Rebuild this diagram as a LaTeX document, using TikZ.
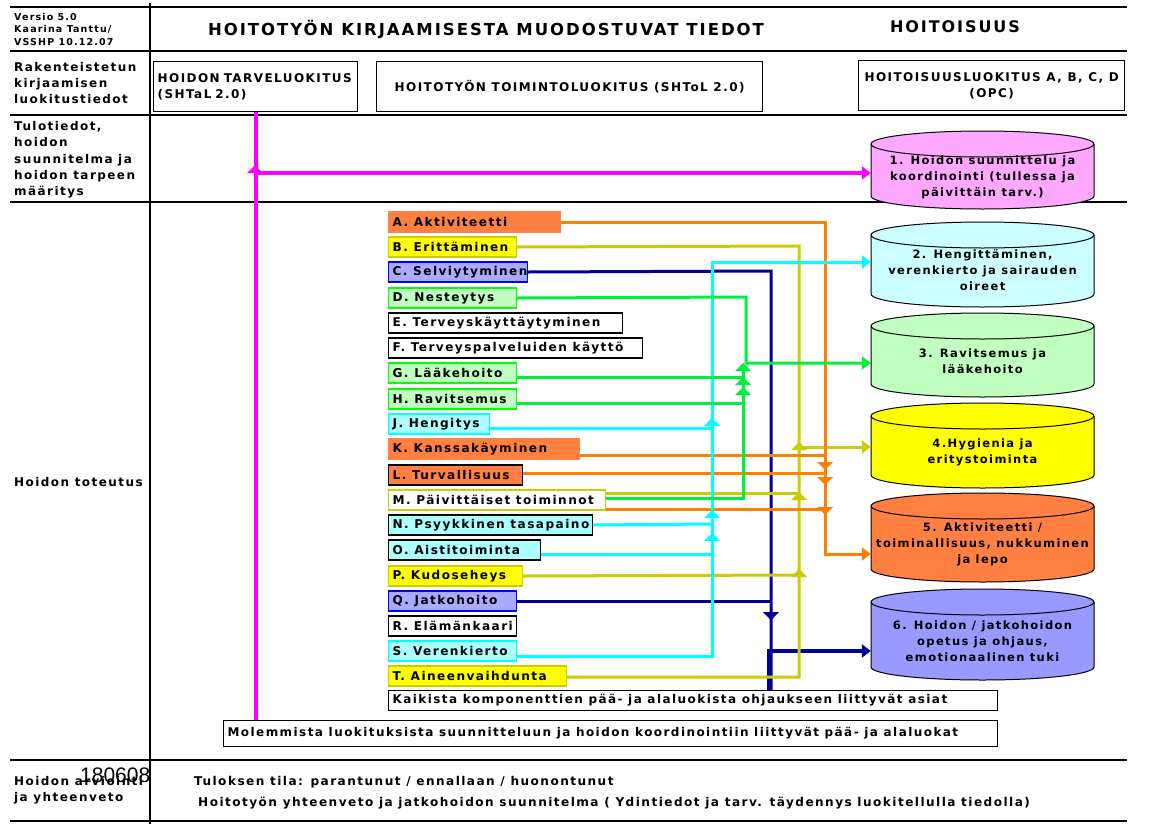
\documentclass[tikz,border=0pt]{standalone}
\usepackage{fontspec}
\setmainfont{DejaVu Sans}[LetterSpace=12]
\newfontfamily\numfont{Liberation Sans}
\usetikzlibrary{arrows.meta,calc}
\definecolor{orl}{HTML}{FF8000}
\definecolor{orf}{HTML}{FF8040}
\definecolor{oll}{HTML}{CCCC00}
\definecolor{yel}{HTML}{FFFF00}
\definecolor{cyanl}{HTML}{00FFFF}
\definecolor{cyf}{HTML}{AAFFFF}
\definecolor{grl}{HTML}{00F040}
\definecolor{grb}{HTML}{00FF00}
\definecolor{grf}{HTML}{C0FFC0}
\definecolor{nvl}{HTML}{000099}
\definecolor{lvf}{HTML}{AAAAFF}
\definecolor{blb}{HTML}{0000FF}
\definecolor{mgl}{HTML}{FF00FF}
\definecolor{pkf}{HTML}{FFA8FF}
\definecolor{ctwo}{HTML}{CCFFFF}
\definecolor{csix}{HTML}{9999FF}
\newcommand\fsz[2]{\fontsize{#1}{#2}\selectfont}
\newcommand\cb[2]{\makebox[#1][l]{#2}}
\tikzset{
  grid/.style={line width=1.3pt, black},
  lab/.style={anchor=west, inner sep=0pt, align=left, font=\bfseries\fsz{12}{16.3}},
  ttl/.style={inner sep=0pt, font=\bfseries\fsz{16}{18}},
  hbox/.style={draw, line width=1.3pt, inner xsep=4pt, inner ysep=0pt, font=\bfseries\fsz{12}{16.5}},
  comp/.style={draw, line width=1.2pt, anchor=west, minimum height=20pt, inner xsep=4pt, inner ysep=0pt, font=\bfseries\fsz{12.1}{14}},
  wbox/.style={draw, line width=1.2pt, anchor=north west, inner xsep=4pt, inner ysep=0pt, font=\bfseries\fsz{12}{14}},
  btxt/.style={anchor=west, inner sep=0pt, font=\bfseries\fsz{12.1}{14}},
  cyltxt/.style={inner sep=0pt, align=center, minimum width=223pt, font=\bfseries\fsz{11.5}{16}},
  cylst/.style={draw=black, line width=1pt},
  ln/.style={line width=3pt},
  arr/.style={-{Triangle[length=9pt,width=13pt]}},
  jup/.pic={\fill (-8,4) -- (0,-4) -- (8,4) -- cycle;},
  jdn/.pic={\fill (-8,-4) -- (0,4) -- (8,-4) -- cycle;}
}
\newcommand\cylinder[3]{%
  \filldraw[cylst, fill=#1] (871,#2+13) -- (871,#3-13)
    arc[start angle=180,end angle=360,x radius=111.5pt,y radius=13pt]
    -- (1094,#2+13)
    arc[start angle=0,end angle=180,x radius=111.5pt,y radius=13pt] -- cycle;
  \draw[cylst] (871,#2+13) arc[start angle=180,end angle=360,x radius=111.5pt,y radius=13pt];}
\begin{document}
\begin{tikzpicture}[x=1pt,y=-1pt]
\useasboundingbox (0,0) rectangle (1154,833);
\fill[white] (0,0) rectangle (1154,833);
% grid
\foreach \yy in {7,51,115,202,760,821} \draw[grid] (10,\yy) -- (1127,\yy);
\draw[grid] (150,3) -- (150,824);
% header texts
\node[lab, font=\bfseries\fsz{9.5}{12.5}] (versio) at (14,29) {Versio 5.0\\Kaarina Tanttu/\\VSSHP 10.12.07};
\node[ttl, font=\bfseries\fsz{16.5}{18}] (title) at (486,29) {HOITOTYÖN KIRJAAMISESTA MUODOSTUVAT TIEDOT};
\node[ttl] (title2) at (955,27) {HOITOISUUS};
% left labels
\node[lab] (l1) at (14,83) {Rakenteistetun\\kirjaamisen\\luokitustiedot};
\node[lab] (l2) at (14,160) {Tulotiedot,\\hoidon\\suunnitelma ja\\hoidon tarpeen\\määritys};
\node[lab] (l3) at (14,482) {Hoidon toteutus};
\node[lab] (l4) at (14,790) {Hoidon arviointi\\ja yhteenveto};
\node[anchor=west, inner sep=0pt, font=\numfont\fsz{21}{24}] (num) at (80,775) {180608};
% classification boxes
\node[hbox, anchor=north west, minimum width=204pt, minimum height=50pt, text width=196pt, align=left] (tarve) at (153,61) {HOIDON TARVELUOKITUS\\(SHTaL 2.0)};
\node[hbox, anchor=north west, minimum width=386pt, minimum height=50pt] (toim) at (376,61) {HOITOTYÖN TOIMINTOLUOKITUS (SHToL 2.0)};
\node[hbox, anchor=north west, minimum width=266pt, minimum height=50pt, align=center] (opc) at (858,60) {HOITOISUUSLUOKITUS A, B, C, D\\(OPC)};
% component boxes
\node[comp, fill=orf, draw=orf] (A) at (388,222) {\cb{164pt}{A. Aktiviteetti}};
\node[comp, fill=yel, draw=oll] (B) at (388,247) {\cb{120pt}{B. Erittäminen}};
\node[comp, fill=lvf, draw=blb] (C) at (388,272) {\cb{131pt}{C. Selviytyminen}};
\node[comp, fill=grf, draw=grb] (D) at (388,298) {\cb{120pt}{D. Nesteytys}};
\node[comp, fill=white, draw=black] (E) at (388,323) {\cb{226pt}{E. Terveyskäyttäytyminen}};
\node[comp, fill=white, draw=black] (F) at (388,348) {\cb{246pt}{F. Terveyspalveluiden käyttö}};
\node[comp, fill=grf, draw=grb] (G) at (388,373) {\cb{120pt}{G. Lääkehoito}};
\node[comp, fill=grf, draw=grb] (H) at (388,399) {\cb{120pt}{H. Ravitsemus}};
\node[comp, fill=cyf, draw=cyanl] (J) at (388,424) {\cb{93pt}{J. Hengitys}};
\node[comp, fill=orf, draw=orf] (K) at (388,449) {\cb{183pt}{K. Kanssakäyminen}};
\node[comp, fill=orf, draw=black] (L) at (388,475) {\cb{126pt}{L. Turvallisuus}};
\node[comp, fill=white, draw=oll] (M) at (388,500) {\cb{209pt}{M. Päivittäiset toiminnot}};
\node[comp, fill=cyf, draw=black] (N) at (388,525) {\cb{196pt}{N. Psyykkinen tasapaino}};
\node[comp, fill=cyf, draw=black] (O) at (388,550) {\cb{144pt}{O. Aistitoiminta}};
\node[comp, fill=yel, draw=oll] (P) at (388,576) {\cb{126pt}{P. Kudoseheys}};
\node[comp, fill=lvf, draw=blb] (Q) at (388,601) {\cb{120pt}{Q. Jatkohoito}};
\node[comp, fill=white, draw=black] (R) at (388,626) {\cb{120pt}{R. Elämänkaari}};
\node[comp, fill=cyf, draw=cyanl] (S) at (388,651) {\cb{120pt}{S. Verenkierto}};
\node[comp, fill=yel, draw=oll] (T) at (388,676) {\cb{170pt}{T. Aineenvaihdunta}};
\node[wbox, minimum width=609pt, minimum height=20pt] (kaik) at (388,690) {\cb{601pt}{Kaikista komponenttien pää- ja alaluokista ohjaukseen liittyvät asiat}};
\node[wbox, minimum width=774pt, minimum height=26pt] (molem) at (223,720) {\cb{766pt}{Molemmista luokituksista suunnitteluun ja hoidon koordinointiin liittyvät pää- ja alaluokat}};
% bottom texts
\node[btxt] (tulos) at (194,782) {Tuloksen tila: parantunut / ennallaan / huonontunut};
\node[btxt] (yht) at (198,803) {Hoitotyön yhteenveto ja jatkohoidon suunnitelma ( Ydintiedot ja tarv. täydennys luokitellulla tiedolla)};
% cylinders
\cylinder{pkf}{131}{209}
\cylinder{ctwo}{222}{307}
\cylinder{grf}{313}{397}
\cylinder{yel}{403}{488}
\cylinder{orf}{493}{582}
\cylinder{csix}{589}{680}
\node[cyltxt] (c1) at (982.5,177) {1. Hoidon suunnittelu ja\\koordinointi (tullessa ja\\päivittäin tarv.)};
\node[cyltxt] (c2) at (982.5,270) {2. Hengittäminen,\\verenkierto ja sairauden\\oireet};
\node[cyltxt] (c3) at (982.5,361) {3. Ravitsemus ja\\lääkehoito};
\node[cyltxt] (c4) at (982.5,452) {4.Hygienia ja\\eritystoiminta};
\node[cyltxt] (c5) at (982.5,544) {5. Aktiviteetti /\\toiminallisuus, nukkuminen\\ja lepo};
\node[cyltxt] (c6) at (982.5,641) {6. Hoidon / jatkohoidon\\opetus ja ohjaus,\\emotionaalinen tuki};
% connector bend points
\coordinate (o2) at (712,262);
\coordinate (o3) at (746,363);
\coordinate (o4) at (799,447);
\coordinate (o5) at (825,554);
\coordinate (o6) at (769,651);
\coordinate (mj) at (255,173);
% navy
\draw[ln, nvl] (C.east) -- (771,271) -- (771,690);
\draw[ln, nvl] (Q.east) -- (771,601);
\pic[color=nvl] at (771,616) {jdn};
\draw[ln, nvl, line width=4pt, arr] (kaik.north -| o6) -- (o6) -- (o6 -| c6.west);
% olive
\draw[ln, oll] (B.east) -- (799,246) -- (799,677) -- ($(T.east)+(0,1)$);
\draw[ln, oll, arr] (o4) -- (o4 -| c4.west);
\draw[ln, oll] ($(M.east)+(0,-7)$) -- (799,493);
\draw[ln, oll] (P.east) -- (799,575);
\pic[color=oll] at (799,446) {jup};
\pic[color=oll] at (799,496) {jup};
\pic[color=oll] at (799,573) {jup};
% orange
\draw[ln, orl, arr] (A.east) -- (825,222) -- (o5) -- (o5 -| c5.west);
\draw[ln, orl] ($(K.east)+(0,6)$) -- (825,455);
\draw[ln, orl] ($(L.east)+(0,-2)$) -- (825,473);
\draw[ln, orl] ($(M.east)+(0,9)$) -- (825,509);
\pic[color=orl] at (825,466) {jdn};
\pic[color=orl] at (825,481) {jdn};
\pic[color=orl] at (825,511) {jdn};
% cyan
\draw[ln, cyanl, arr] ($(S.east)+(0,5)$) -- (712,656) -- (o2) -- (o2 -| c2.west);
\draw[ln, cyanl] ($(J.east)+(0,4)$) -- (712,428);
\draw[ln, cyanl] (N.east) -- (712,524);
\draw[ln, cyanl] ($(O.east)+(0,4)$) -- (712,554);
\pic[color=cyanl] at (712,422) {jup};
\pic[color=cyanl] at (712,514) {jup};
\pic[color=cyanl] at (712,537) {jup};
% green
\draw[ln, grl, arr] (D.east) -- (746,297) -- (o3) -- (o3 -| c3.west);
\draw[ln, grl] ($(M.east)+(0,-2)$) -- (743,498) -- (743,366);
\draw[ln, grl] ($(G.east)+(0,4)$) -- (743,377);
\draw[ln, grl] ($(H.east)+(0,4)$) -- (743,403);
\pic[color=grl] at (743,367) {jup};
\pic[color=grl] at (743,381) {jup};
\pic[color=grl] at (743,391) {jup};
% magenta
\draw[ln, mgl, line width=4pt] (tarve.south) -- (tarve.south |- molem.north);
\draw[ln, mgl, line width=4pt, arr] (mj) -- (mj -| c1.west);
\pic[color=mgl] at (255,169) {jup};
\end{tikzpicture}
\end{document}
